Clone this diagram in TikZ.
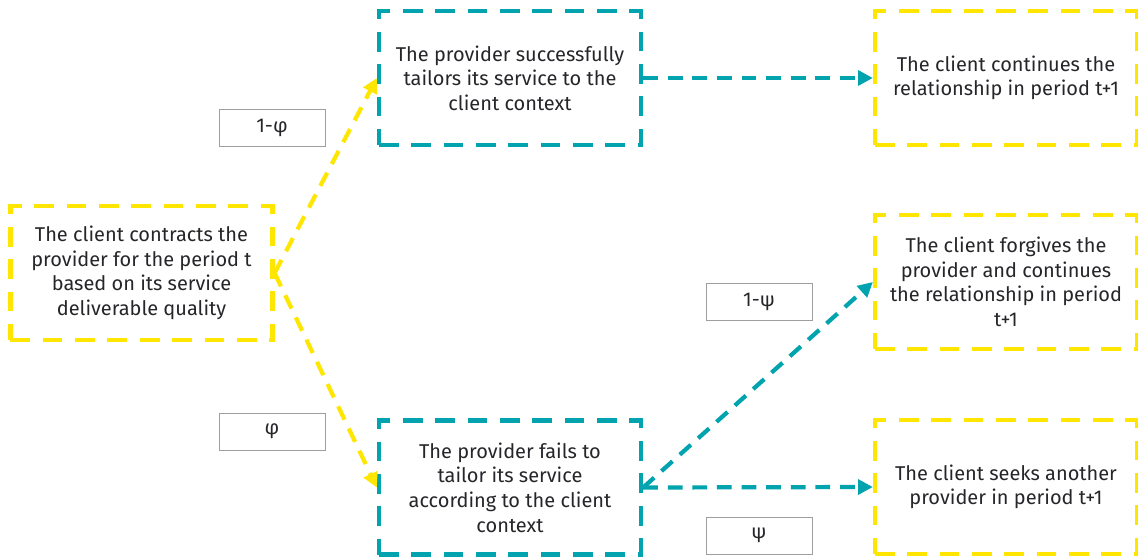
\documentclass[tikz,border=0pt]{standalone}
\usepackage{fontspec}
\setmainfont{Fira Sans}
\usetikzlibrary{arrows.meta}

\definecolor{eyyellow}{RGB}{255,230,0}
\definecolor{eyteal}{RGB}{0,163,174}
\definecolor{txtgray}{RGB}{38,38,42}

\tikzset{
  box/.style={draw, line width=3pt, dash pattern=on 14pt off 9pt,
    minimum width=6.55cm, minimum height=3.35cm, align=center,
    text=txtgray, font=\fontsize{14.2}{17.5}\selectfont},
  clientbox/.style={box, draw=eyyellow},
  providerbox/.style={box, draw=eyteal},
  probbox/.style={draw=gray!75, line width=0.6pt, fill=white,
    minimum width=2.65cm, minimum height=0.925cm,
    text=txtgray, font=\fontsize{14.2}{17.5}\selectfont},
  flow/.style={line width=3pt, dash pattern=on 10.5pt off 7pt,
    -{Triangle[length=10.5pt,width=10.5pt]}}
}

\begin{document}
\begin{tikzpicture}[x=0.025cm, y=-0.025cm]
    \useasboundingbox (0,0) rectangle (1138,557);

    \node[clientbox] (contract) at (141.5,273) {The client contracts the\\provider for the period t\\based on its service\\deliverable quality};
    \node[providerbox] (success) at (510,78) {The provider successfully\\tailors its service to the\\client context};
    \node[providerbox] (fail) at (510,487.5) {The provider fails to\\tailor its service\\according to the client\\context};
    \node[clientbox] (continue) at (1006,78) {The client continues the\\relationship in period t+1};
    \node[clientbox] (forgive) at (1006,282) {The client forgives the\\provider and continues\\the relationship in period\\t+1};
    \node[clientbox] (seek) at (1006,487) {The client seeks another\\provider in period t+1};

    \draw [flow, eyyellow] (contract.east) -- (success.west);
    \draw [flow, eyyellow] (contract.east) -- (fail.west);
    \draw [flow, eyteal] (success.east) -- (continue.west);
    \draw [flow, eyteal] (fail.east) -- (forgive.west);
    \draw [flow, eyteal] (fail.east) -- (seek.west);

    \node[probbox] (notphi) at (272,127.5) {1-φ};
    \node[probbox] (phi) at (272,431.5) {φ};
    \node[probbox] (notpsi) at (759,302) {1-ψ};
    \node[probbox] (psi) at (759,535.5) {ψ};
\end{tikzpicture}
\end{document}
